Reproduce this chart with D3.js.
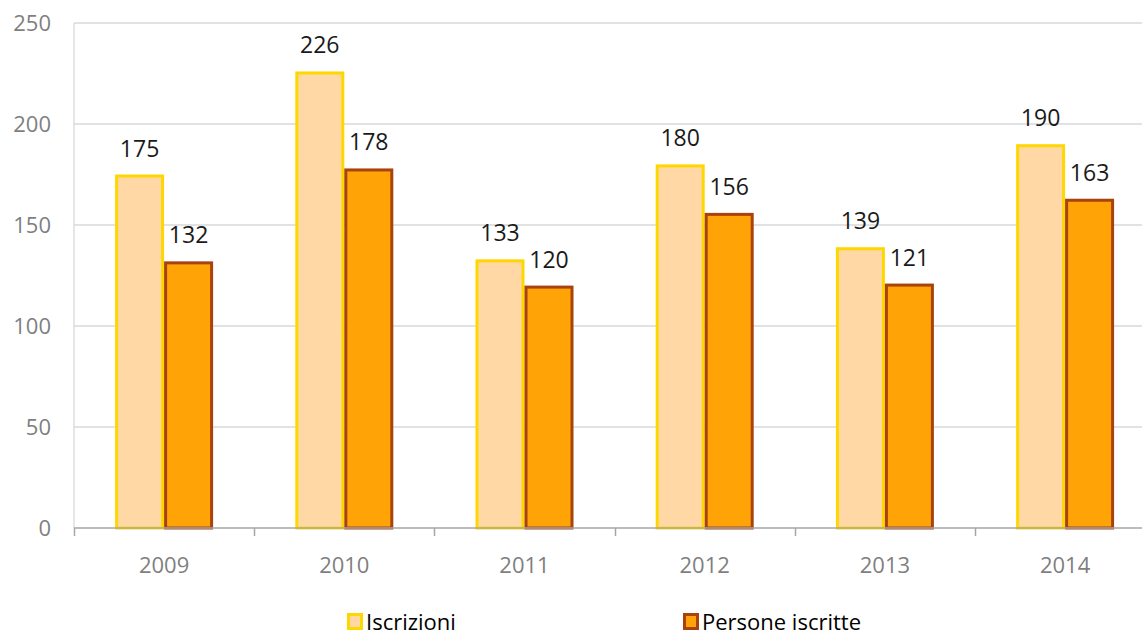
<!DOCTYPE html>
<html><head><meta charset="utf-8">
<script src="https://cdn.jsdelivr.net/npm/d3@7"></script>
<style>body{margin:0;background:#fff}svg{display:block}text{font-family:"Open Sans",sans-serif}</style>
</head><body><svg id="c" width="1142" height="640"></svg>
<script>
const years = ["2009","2010","2011","2012","2013","2014"];
const iscrizioni = [175,226,133,180,139,190];
const persone = [132,178,120,156,121,163];
const yTicks = [0,50,100,150,200,250];
const seriesNames = ["Iscrizioni","Persone iscritte"];

(function(){
const svg = d3.select("#c");
const pLeft = 74, pTop = 23, pBottom = 528, bandW = 180.2;
const x = d3.scaleBand().domain(years).range([pLeft, pLeft + bandW*years.length]);
const y = d3.scaleLinear().domain([0,250]).range([pBottom, pTop]);
const barW = 49, gapL = (bandW - 2*barW)/2;

svg.append("g").selectAll("line").data(yTicks.filter(d=>d>0)).join("line")
  .attr("x1", pLeft).attr("x2", 1142).attr("y1", d=>y(d)).attr("y2", d=>y(d))
  .attr("stroke", "#d9d9d9").attr("stroke-width", 1.3);
svg.append("line").attr("x1", pLeft).attr("x2", pLeft).attr("y1", pTop).attr("y2", pBottom)
  .attr("stroke", "#d9d9d9").attr("stroke-width", 1.3);

svg.append("g").selectAll("text").data(yTicks).join("text")
  .attr("x", 51).attr("y", d=>y(d)).attr("dy", "0.35em").attr("text-anchor","end")
  .attr("font-size", 22).attr("fill", "#7f7f7f").text(d=>d);

const series = [
  {vals: iscrizioni, fill: "#ffd8a6", stroke: "#ffd700", off: 0},
  {vals: persone, fill: "#ffa307", stroke: "#a8420e", off: 1}
];
series.forEach(s => {
  const g = svg.append("g");
  g.selectAll("rect").data(years).join("rect")
    .attr("x", (d)=>x(d) + gapL + s.off*barW + 1.5)
    .attr("width", barW - 3)
    .attr("y", (d,i)=>y(s.vals[i]) + 1.5)
    .attr("height", (d,i)=>pBottom - y(s.vals[i]) - 1.5)
    .attr("fill", s.fill).attr("stroke", s.stroke).attr("stroke-width", 3);
  g.selectAll("text").data(years).join("text")
    .attr("x", d=>x(d) + gapL + s.off*barW + barW/2)
    .attr("y", (d,i)=>y(s.vals[i]) - 18)
    .attr("text-anchor","middle").attr("font-size", 23).attr("fill", "#1a1a1a")
    .text((d,i)=>s.vals[i]);
});

svg.append("line").attr("x1", pLeft).attr("x2", 1142).attr("y1", pBottom).attr("y2", pBottom)
  .attr("stroke", "#a6a6a6").attr("stroke-width", 1.5);
svg.append("g").selectAll("line").data(years).join("line")
  .attr("x1", d=>Math.round(x(d))+0.5).attr("x2", d=>Math.round(x(d))+0.5)
  .attr("y1", pBottom).attr("y2", pBottom + 8).attr("stroke", "#a6a6a6").attr("stroke-width", 1.5);
svg.append("g").selectAll("text").data(years).join("text")
  .attr("x", d=>x(d) + bandW/2).attr("y", 565).attr("dy","0.35em").attr("text-anchor","middle")
  .attr("font-size", 22).attr("fill", "#7f7f7f").text(d=>d);

const leg = [{x: 347, fill: "#ffd8a6", stroke: "#ffd700"}, {x: 683, fill: "#ffa307", stroke: "#a8420e"}];
leg.forEach((l,i) => {
  svg.append("rect").attr("x", l.x+1.5).attr("y", 614.5).attr("width", 13).attr("height", 14)
    .attr("fill", l.fill).attr("stroke", l.stroke).attr("stroke-width", 3);
  svg.append("text").attr("x", l.x + 19).attr("y", 622).attr("dy", "0.35em").attr("font-size", 22).attr("fill", "#000")
    .text(seriesNames[i]);
});
})();
</script></body></html>
